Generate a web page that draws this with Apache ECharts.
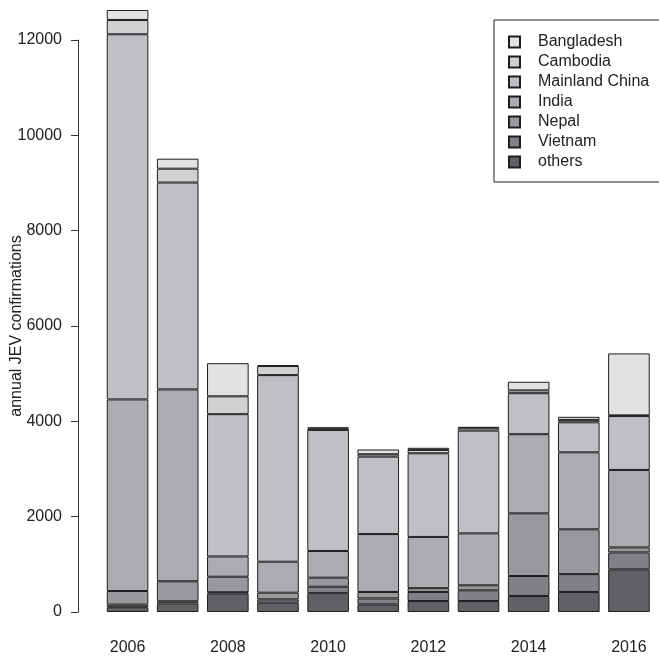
<!DOCTYPE html>
<html>
<head>
<meta charset="utf-8">
<title>annual JEV confirmations</title>
<script src="https://cdn.jsdelivr.net/npm/echarts@6/dist/echarts.min.js"></script>
<style>
    html, body {margin: 0; padding: 0; background: #fff;}
    #main {width: 659px; height: 662px;}
</style>
</head>
<body>
<div id="main"></div>
<script>
// years on the x axis
var years = ['2006', '2007', '2008', '2009', '2010', '2011', '2012', '2013', '2014', '2015', '2016'];
// y axis ticks
var yTicks = [0, 2000, 4000, 6000, 8000, 10000, 12000];

// stacked from bottom to top
var others = [100, 180, 390, 195, 395, 160, 230, 230, 335, 420, 895];
var vietnam = [55, 45, 25, 70, 135, 125, 190, 225, 420, 375, 355];
var nepal = [285, 420, 325, 140, 190, 135, 80, 105, 1315, 940, 105];
var india = [4020, 4025, 425, 650, 560, 1215, 1075, 1090, 1660, 1615, 1625];
var mainland = [7660, 4340, 2985, 3915, 2540, 1625, 1755, 2155, 860, 630, 1130];
var cambodia = [300, 290, 375, 190, 30, 50, 70, 50, 60, 50, 15];
var bangladesh = [210, 210, 695, 20, 25, 100, 45, 30, 180, 65, 1300];

// legend order (top to bottom)
var legendNames = ['Bangladesh', 'Cambodia', 'Mainland China', 'India', 'Nepal', 'Vietnam', 'others'];

var font = '"Liberation Sans", Arial, sans-serif';

function bar(name, data, color) {
    return {
        name: name,
        type: 'bar',
        stack: 'all',
        data: data,
        clip: false, // 2006 goes above 12000
        barCategoryGap: '17%',
        itemStyle: {
            color: color,
            borderColor: '#1e1e1e',
            borderWidth: 1
        }
    };
}

var chart = echarts.init(document.getElementById('main'));
var option = {
    animation: false,
    backgroundColor: '#fff',
    textStyle: {fontFamily: font},
    grid: {
        left: 102.5,
        right: 5,
        top: 40,
        bottom: 50,
        containLabel: false,
        outerBoundsMode: 'none'
    },
    legend: {
        data: legendNames,
        orient: 'vertical',
        left: 494,
        top: 20,
        padding: [12, 40, 10, 14],
        itemGap: 0,
        itemWidth: 11,
        itemHeight: 11,
        borderColor: '#222',
        borderWidth: 1,
        icon: 'rect',
        textStyle: {
            fontFamily: font,
            fontSize: 16,
            color: '#222',
            lineHeight: 20,
            padding: [0, 0, 0, 13]
        }
    },
    xAxis: {
        type: 'category',
        data: years,
        axisLine: {show: false},
        axisTick: {show: false},
        axisLabel: {
            interval: 1,
            margin: 28,
            fontSize: 16,
            color: '#222',
            fontFamily: font
        }
    },
    yAxis: {
        type: 'value',
        min: yTicks[0],
        max: yTicks[yTicks.length - 1],
        interval: 2000,
        offset: 24.5,
        name: 'annual JEV confirmations',
        nameLocation: 'middle',
        nameRotate: 90,
        nameGap: 53,
        nameMoveOverlap: false,
        nameTextStyle: {fontSize: 16, color: '#222', fontFamily: font},
        splitLine: {show: false},
        axisLine: {show: true, lineStyle: {color: '#333', width: 1}},
        axisTick: {show: true, length: 7, lineStyle: {color: '#333'}},
        axisLabel: {
            margin: 16,
            fontSize: 16,
            color: '#222',
            fontFamily: font,
            formatter: function (value) {
                return String(value);
            }
        }
    },
    series: [
        bar('others', others, '#606164'),
        bar('Vietnam', vietnam, '#808184'),
        bar('Nepal', nepal, '#98999c'),
        bar('India', india, '#abacaf'),
        bar('Mainland China', mainland, '#bfc0c4'),
        bar('Cambodia', cambodia, '#d0d1d3'),
        bar('Bangladesh', bangladesh, '#e1e2e4')
    ]
};
chart.setOption(option);
</script>
</body>
</html>
